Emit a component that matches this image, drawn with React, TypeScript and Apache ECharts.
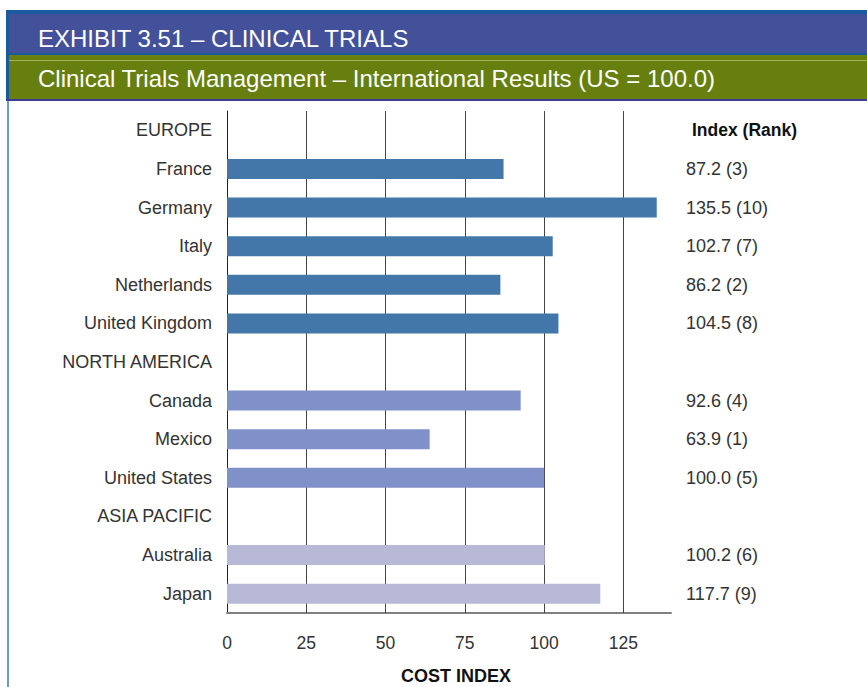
import React, { useEffect, useRef } from "react";
import * as echarts from "echarts";

const TITLE = "EXHIBIT 3.51 – CLINICAL TRIALS";
const SUBTITLE = "Clinical Trials Management – International Results (US = 100.0)";
const X_NAME = "COST INDEX";
const RIGHT_HEADER = "Index (Rank)";

const categories = [
  "EUROPE",
  "France",
  "Germany",
  "Italy",
  "Netherlands",
  "United Kingdom",
  "NORTH AMERICA",
  "Canada",
  "Mexico",
  "United States",
  "ASIA PACIFIC",
  "Australia",
  "Japan",
];
const values: (number | null)[] = [null, 87.2, 135.5, 102.7, 86.2, 104.5, null, 92.6, 63.9, 100.0, null, 100.2, 117.7];
const ranks: (number | null)[] = [null, 3, 10, 7, 2, 8, null, 4, 1, 5, null, 6, 9];
const regions = ["head", "eu", "eu", "eu", "eu", "eu", "head", "na", "na", "na", "head", "ap", "ap"];
const regionColors: Record<string, string> = { eu: "#4377a9", na: "#8091c9", ap: "#b7b9d6", head: "transparent" };
const gridTicks = [25, 50, 75, 100, 125];

const FONT = "'Liberation Sans', Arial, sans-serif";

export default function App() {
  const ref = useRef<HTMLDivElement>(null);
  useEffect(() => {
    if (!ref.current) return;
    const chart = echarts.init(ref.current, null, { renderer: "svg" });
    const rightLabels = categories.map((c, i) => {
      if (i === 0) return RIGHT_HEADER;
      const v = values[i];
      const r = ranks[i];
      return v == null ? "" : `${v.toFixed(1)} (${r})`;
    });
    chart.setOption({
      animation: false,
      backgroundColor: "#ffffff",
      textStyle: { fontFamily: FONT },
      graphic: [
        { type: "rect", shape: { x: 8, y: 11, width: 880, height: 700 }, style: { fill: "none", stroke: "#3a78bd", lineWidth: 1.5 }, z: 1 },
        { type: "rect", shape: { x: 6, y: 10, width: 880, height: 4 }, style: { fill: "#1a5ba0" }, z: 2 },
        { type: "rect", shape: { x: 6, y: 10, width: 3, height: 91 }, style: { fill: "#1a5ba0" }, z: 2 },
        { type: "rect", shape: { x: 9, y: 14, width: 870, height: 39 }, style: { fill: "#43519b" }, z: 2 },
        { type: "rect", shape: { x: 9, y: 53, width: 870, height: 2 }, style: { fill: "#1a5ba0" }, z: 2 },
        { type: "rect", shape: { x: 9, y: 55, width: 870, height: 44 }, style: { fill: "#667f0e" }, z: 2 },
        { type: "rect", shape: { x: 9, y: 60, width: 870, height: 1 }, style: { fill: "#a4b25c" }, z: 3 },
        { type: "rect", shape: { x: 6, y: 99, width: 880, height: 2 }, style: { fill: "#3a3a9a" }, z: 3 },
        {
          type: "text",
          x: 38,
          y: 38,
          style: { text: TITLE, fill: "#ffffff", font: `24px ${FONT}`, verticalAlign: "middle" },
          z: 4,
        },
        {
          type: "text",
          x: 38,
          y: 78,
          style: { text: SUBTITLE, fill: "#ffffff", font: `24px ${FONT}`, verticalAlign: "middle" },
          z: 4,
        },
        {
          type: "text",
          x: 456,
          y: 676,
          style: { text: X_NAME, fill: "#111", font: `bold 18px ${FONT}`, align: "center", verticalAlign: "middle" },
          z: 4,
        },
      ],
      grid: { left: 227, right: 196, top: 111, height: 502 },
      xAxis: {
        type: "value",
        min: 0,
        max: 140,
        interval: 25,
        axisLine: { show: true, lineStyle: { color: "#808080", width: 2 } },
        axisTick: { show: false },
        splitLine: { show: false },
        axisLabel: {
          margin: 21,
          color: "#333",
          fontSize: 17.5,
          fontFamily: FONT,
          formatter: (v: number) => (v > 130 ? "" : String(v)),
        },
      },
      yAxis: [
        {
          type: "category",
          data: categories,
          inverse: true,
          axisLine: { show: true, lineStyle: { color: "#222", width: 1 } },
          axisTick: { show: false },
          axisLabel: { margin: 15, color: "#333", fontSize: 18, fontFamily: FONT },
        },
        {
          type: "category",
          data: rightLabels,
          inverse: true,
          position: "right",
          axisLine: { show: false },
          axisTick: { show: false },
          axisLabel: {
            margin: 15,
            color: "#333",
            fontSize: 18,
            fontFamily: FONT,
            formatter: (v: string, i: number) => (i === 0 ? `{h|${v}}` : v),
            rich: { h: { fontWeight: "bold", fontSize: 17.5, color: "#111", fontFamily: FONT, padding: [0, 0, 0, 6] } },
          },
        },
      ],
      series: [
        {
          type: "bar",
          yAxisIndex: 0,
          barWidth: 20,
          data: values.map((v, i) => ({ value: v, itemStyle: { color: regionColors[regions[i]] } })),
          markLine: {
            silent: true,
            symbol: "none",
            label: { show: false },
            lineStyle: { color: "#444", width: 1, type: "solid" },
            data: gridTicks.map((t) => ({ xAxis: t })),
            z: 1,
          },
          z: 3,
        },
      ],
    });
    return () => chart.dispose();
  }, []);
  return <div ref={ref} style={{ position: "absolute", left: 0, top: 0, width: 867, height: 687 }} />;
}
